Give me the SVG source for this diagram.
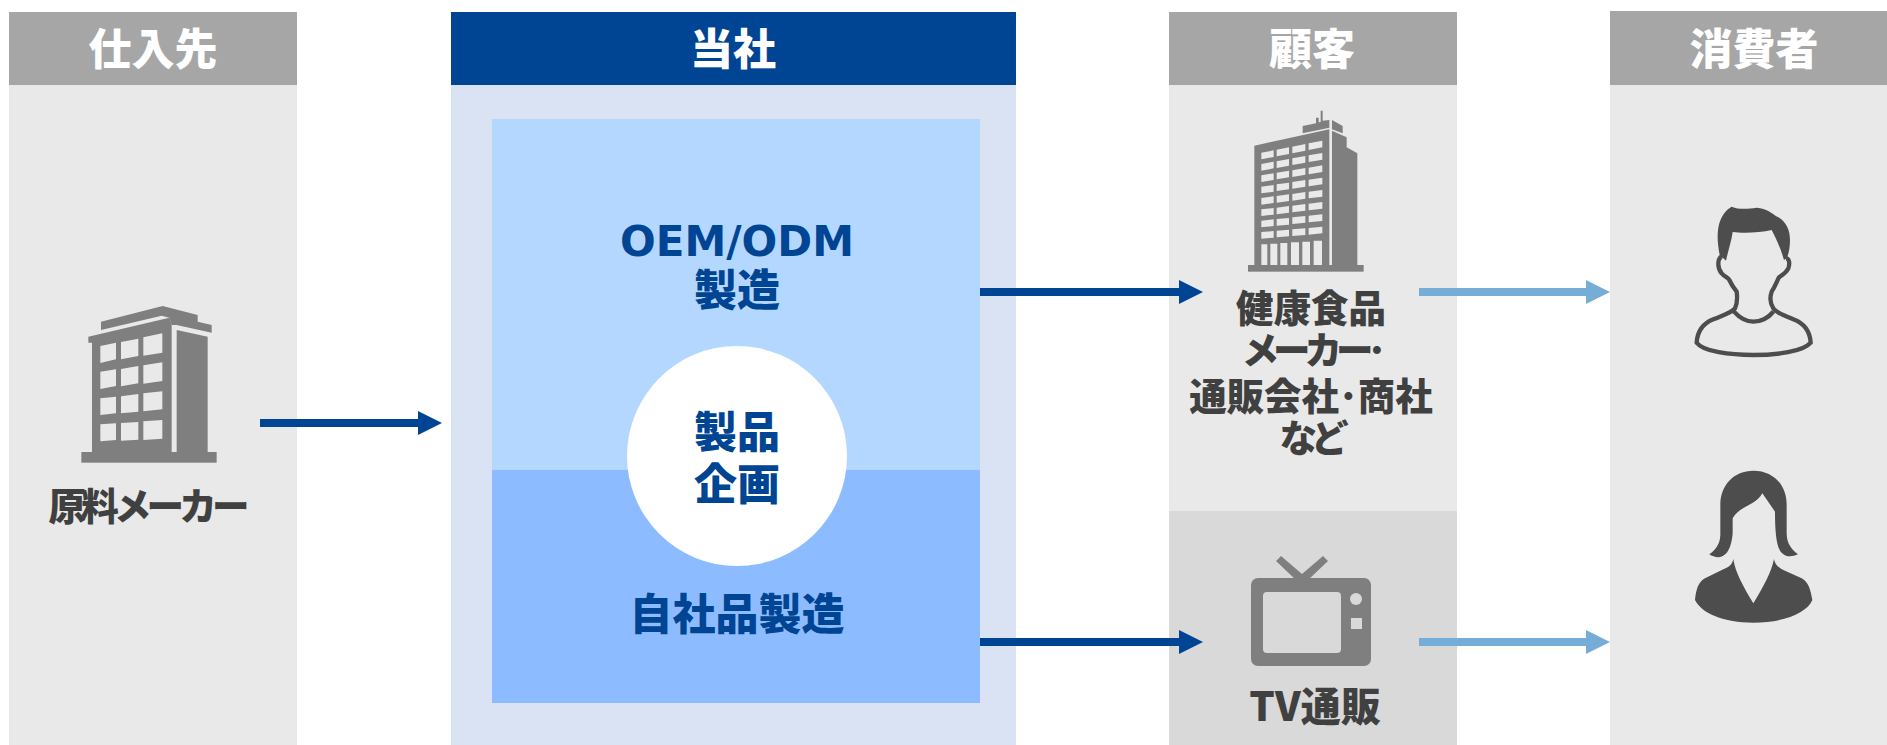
<svg xmlns="http://www.w3.org/2000/svg" width="1887" height="745" viewBox="0 0 1887 745">
<style>
text{font-family:"Noto Sans CJK JP","Noto Sans CJK SC",sans-serif;font-weight:900;text-anchor:middle}
.h{fill:#fff;font-size:43px}
.l{fill:#404040;font-size:37.5px}
.b{fill:#004494;font-size:43px}
.lat{font-family:"DejaVu Sans","Liberation Sans",sans-serif;font-weight:700;font-size:42px}
.kana{letter-spacing:-6px}
.ic{fill:#7f7f7f}
.bg1{fill:#e9e9e9}
.p{fill:#4d4d4d}
.dk{stroke:#004494;stroke-width:8;fill:none}
.lt{stroke:#75add6;stroke-width:8;fill:none}
</style>
<defs>
<marker id="ad" markerUnits="userSpaceOnUse" markerWidth="24" markerHeight="24" refX="0" refY="12" orient="auto"><path d="M0,0L24,12L0,24Z" fill="#004494"/></marker>
<marker id="al" markerUnits="userSpaceOnUse" markerWidth="24" markerHeight="24" refX="0" refY="12" orient="auto"><path d="M0,0L24,12L0,24Z" fill="#75add6"/></marker>
</defs>
<rect width="1887" height="745" fill="#fff"/>
<g id="col-supplier">
<rect x="9" y="85" width="288" height="660" fill="#e9e9e9"/>
<rect x="9" y="12" width="288" height="73" fill="#a6a6a6"/>
<text class="h" x="153" y="65">仕入先</text>
<g transform="translate(60,290) scale(.33333)">
<path class="ic" d="M123,95L308,48L413,75V95L455,105V128L350,105H335L328,83L305,77L123,120Z"/>
<path class="ic" d="M85,140L328,83L335,105V486H96V158H85Z"/>
<path class="ic" d="M350,120L443,140V486H350Z"/>
<rect class="ic" x="64" y="486" width="406" height="32"/>
<path class="bg1" d="M121,168L168,158V208L121,219ZM183,156L235,146V198L183,208ZM250,142L307,130V188L250,197ZM121,245L168,238V288L121,297ZM183,237L235,228V280L183,289ZM250,226L307,217V273L250,281ZM121,325L168,320V370L121,375ZM183,319L235,312V365L183,370ZM250,310L307,304V358L250,364ZM121,403L168,400V450L121,454ZM183,399L235,396V449L183,452ZM250,394L307,390V446L250,450Z"/>
</g>
<text class="l" x="149" y="520" textLength="201" lengthAdjust="spacing">原料メーカー</text>
</g>
<g id="col-company">
<rect x="451" y="85" width="565" height="660" fill="#dae3f3"/>
<rect x="451" y="12" width="565" height="73" fill="#004494"/>
<text class="h" x="733" y="65">当社</text>
<rect x="492" y="119" width="488" height="351" fill="#b4d7ff"/>
<rect x="492" y="470" width="488" height="233" fill="#8cbcff"/>
<circle cx="737" cy="456" r="110" fill="#fff"/>
<text class="b" x="737" y="256"><tspan class="lat">OEM/ODM</tspan><tspan x="737" y="306">製造</tspan></text>
<text class="b" x="737" y="448">製品<tspan x="737" y="500">企画</tspan></text>
<text class="b" x="737" y="630">自社品製造</text>
</g>
<g id="col-customer">
<rect x="1169" y="85" width="288" height="426" fill="#e9e9e9"/>
<rect x="1169" y="511" width="288" height="234" fill="#d9d9d9"/>
<rect x="1169" y="12" width="288" height="73" fill="#a6a6a6"/>
<text class="h" x="1312" y="65">顧客</text>
<g transform="translate(1150,90) scale(.33333)">
<path class="ic" d="M458,130V108L498,100V83H506V97L512,96V62H518V92L538,90V113Z"/>
<path class="ic" d="M546,90L578,108V130L546,118Z"/>
<path class="ic" d="M313,167L538,118V525H313Z"/>
<path class="ic" d="M546,122L590,142V172L622,190V525H546Z"/>
<rect class="ic" x="294" y="525" width="347" height="20"/>
<path class="bg1" d="M334,188L371,181V201L334,208ZM380,179L417,172V192L380,199ZM427,170L466,162V182L427,190ZM476,160L517,152V172L476,180ZM334,222L371,215V235L334,242ZM380,214L417,207V227L380,234ZM427,205L466,198V218L427,225ZM476,196L517,189V209L476,216ZM334,256L371,250V270L334,276ZM380,248L417,242V262L380,268ZM427,241L466,234V254L427,261ZM476,233L517,226V246L476,253ZM334,290L371,285V305L334,310ZM380,283L417,278V298L380,303ZM427,276L466,270V290L427,296ZM476,269L517,263V283L476,289ZM334,324L371,319V339L334,344ZM380,318L417,313V333L380,338ZM427,312L466,306V326L427,332ZM476,305L517,300V320L476,325ZM334,358L371,354V374L334,378ZM380,353L417,348V368L380,373ZM427,347L466,342V362L427,367ZM476,341L517,336V356L476,361ZM334,392L371,388V408L334,412ZM380,387L417,384V404L380,407ZM427,382L466,378V398L427,402ZM476,377L517,373V393L476,397ZM334,426L371,423V443L334,446ZM380,422L417,419V439L380,442ZM427,418L466,415V435L427,438ZM476,414L517,410V430L476,434ZM334,463H352V525H334ZM361,461H382V525H361ZM391,459H412V525H391ZM423,457H447V525H423ZM457,455H480V525H457ZM491,452H516V525H491Z"/>
</g>
<text class="l" x="1311" y="322">健康食品<tspan class="kana" x="1311" y="364">メーカー･</tspan><tspan x="1311" y="410">通販会社･商社</tspan><tspan class="kana" x="1311" y="452">など</tspan></text>
<g>
<path class="ic" d="M1276,561L1281,556L1302,574L1323,556L1328,561L1307,581H1297Z"/>
<rect class="ic" x="1251" y="578" width="120" height="88" rx="7"/>
<rect x="1263" y="592" width="78" height="61" rx="4" fill="#d9d9d9"/>
<circle cx="1356" cy="599" r="6" fill="#d9d9d9"/>
<rect x="1351" y="618" width="11" height="11" fill="#d9d9d9"/>
</g>
<text class="l" style="font-size:40px" x="1315" y="721">TV通販</text>
</g>
<g id="col-consumer">
<rect x="1610" y="85" width="277" height="660" fill="#e9e9e9"/>
<rect x="1610" y="11" width="277" height="74" fill="#a6a6a6"/>
<text class="h" x="1754" y="65">消費者</text>
<g transform="translate(1660,190) scale(.33333)">
<path class="p" d="M215,50C235,58 260,58 290,53C320,55 335,70 355,82C378,95 390,120 390,150C390,175 385,195 380,205L372,210C362,175 350,150 335,120C300,128 250,130 218,126C215,150 205,180 198,212L190,205L180,200C172,160 170,130 178,100C185,75 200,58 215,50Z"/>
<path fill="none" stroke="#4d4d4d" stroke-width="13" d="M183,200C172,210 172,235 185,250C195,262 205,262 208,270C215,285 222,295 230,305C232,320 232,340 225,355C215,368 190,375 160,388C130,400 112,425 110,458C130,485 210,495 280,495C350,495 430,485 452,458C450,425 432,400 400,388C375,377 350,370 340,355C330,340 330,320 335,305C345,290 350,275 357,262C365,255 378,250 385,235C390,220 388,205 378,205M222,365C240,385 260,395 280,395C300,395 325,385 340,365"/>
</g>
<g transform="translate(1660,450) scale(.33333)">
<path class="p" d="M280,62C340,62 380,105 380,165L380,250C380,280 395,300 414,313C395,322 375,322 362,305C348,285 345,240 345,185L307,130C290,165 235,170 218,205L218,250C215,285 205,320 175,322C165,322 155,318 148,313C165,300 180,285 181,255L181,165C181,105 222,62 280,62Z"/>
<path class="p" d="M220,327C225,365 250,410 280,460C310,410 335,365 342,327C345,345 355,352 375,362L425,385C445,395 452,420 457,450C440,490 370,518 280,518C190,518 125,490 105,450C108,420 115,395 135,385L190,358C210,350 217,342 220,327Z"/>
</g>
</g>
<g id="connectors">
<path class="dk" d="M260,423H418" marker-end="url(#ad)"/>
<path class="dk" d="M980,292H1179" marker-end="url(#ad)"/>
<path class="dk" d="M980,642H1179" marker-end="url(#ad)"/>
<path class="lt" d="M1419,292H1586" marker-end="url(#al)"/>
<path class="lt" d="M1419,642H1586" marker-end="url(#al)"/>
</g>
</svg>
